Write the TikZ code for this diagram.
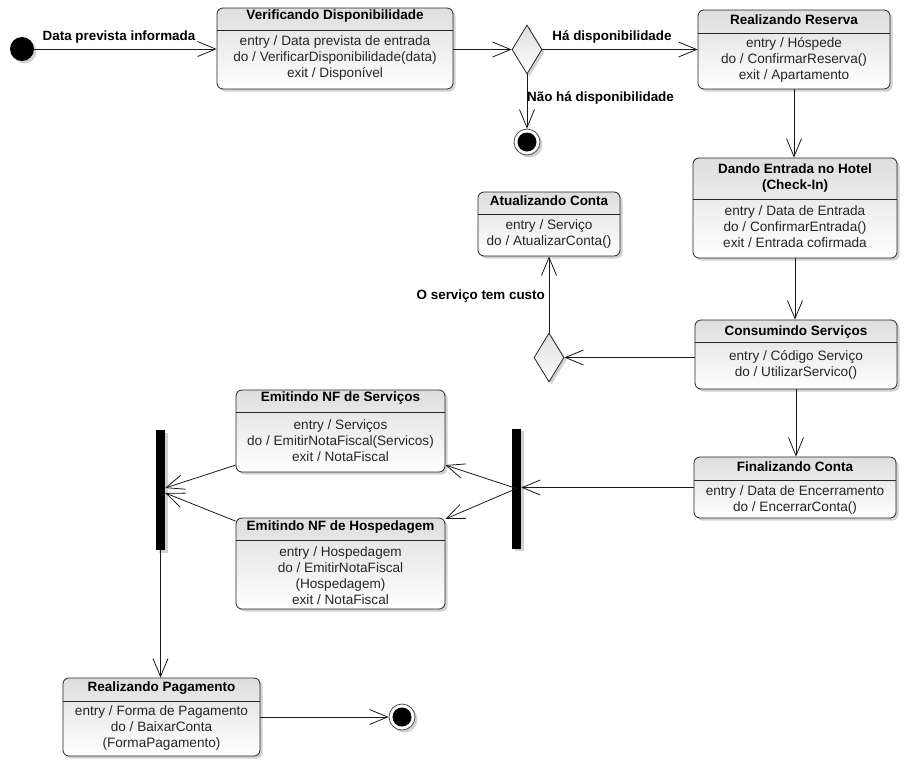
\documentclass[tikz,border=0pt]{standalone}
\usepackage{fontspec}
\setmainfont{Liberation Sans}
\usetikzlibrary{arrows.meta,shadows,shapes.geometric,calc}
\begin{document}
\begin{tikzpicture}[x=1pt,y=-1pt,
  shad/.style={drop shadow={shadow xshift=2.5pt,shadow yshift=-2.5pt,opacity=0.3,fill=black!60}},
  state/.style={draw=black!85, line width=0.8pt, rounded corners=6pt, top color=black!13, bottom color=white, shad, inner sep=0pt},
  divline/.style={draw=black!85, line width=0.8pt},
  ttl/.style={font=\fontsize{13.5}{16}\selectfont\bfseries, inner sep=0pt, align=center},
  body/.style={font=\fontsize{13.6}{16}\selectfont, inner sep=0pt, align=center, text=black!85},
  tr/.style={draw=black!90, line width=0.8pt, -{Straight Barb[length=18pt,width=15pt,line width=0.8pt]}},
  lbl/.style={font=\fontsize{13.4}{15}\selectfont\bfseries, inner sep=0pt},
  decis/.style={diamond, draw=black!85, line width=0.8pt, top color=black!13, bottom color=white, shad, minimum width=30pt, minimum height=49pt, inner sep=0pt},
  initst/.style={circle, fill=black, minimum size=24pt, inner sep=0pt, shad},
  finalst/.style={circle, draw=black!70, line width=0.8pt, fill=white, minimum size=26pt, inner sep=0pt, shad},
  finalin/.style={circle, fill=black, minimum size=19pt, inner sep=0pt},
  bar/.style={rectangle, fill=black, minimum width=9pt, minimum height=120pt, inner sep=0pt, shad}
]
\useasboundingbox (0,0) rectangle (913,772);

% initial / final / decisions / bars
\node[initst] (init) at (22,49) {};
\node[decis] (d1) at (527,49.5) {};
\node[finalst] (f1) at (527,142) {};
\node[finalin] (f1i) at (527,142) {};
\node[decis] (d2) at (549,357.5) {};
\node[bar] (fork) at (516.5,488.5) {};
\node[bar] (join) at (160.5,490) {};
\node[finalst] (f2) at (402,717) {};
\node[finalin] (f2i) at (402,717) {};

% Verificando Disponibilidade
\node[state, minimum width=236pt, minimum height=81pt] (verif) at (335,48.5) {};
\node[ttl] (verif-t) at (335,16.5) {Verificando Disponibilidade};
\draw[divline] (verif.west |- 0,30) -- (verif.east |- 0,30);
\node[body] (verif-b) at (335,57.5) {entry / Data prevista de entrada\\do / VerificarDisponibilidade(data)\\exit / Disponível};

% Realizando Reserva
\node[state, minimum width=192pt, minimum height=79pt] (res) at (794,49.5) {};
\node[ttl] (res-t) at (794,19.5) {Realizando Reserva};
\draw[divline] (res.west |- 0,33) -- (res.east |- 0,33);
\node[body] (res-b) at (794,60) {entry / Hóspede\\do / ConfirmarReserva()\\exit / Apartamento};

% Dando Entrada no Hotel
\node[state, minimum width=204pt, minimum height=100pt] (dando) at (795,208) {};
\node[ttl] (dando-t) at (795,178.5) {Dando Entrada no Hotel\\(Check-In)};
\draw[divline] (dando.west |- 0,199) -- (dando.east |- 0,199);
\node[body] (dando-b) at (795,226.5) {entry / Data de Entrada\\do / ConfirmarEntrada()\\exit / Entrada cofirmada};

% Atualizando Conta
\node[state, minimum width=142pt, minimum height=64pt] (atual) at (549,224) {};
\node[ttl] (atual-t) at (549,201) {Atualizando Conta};
\draw[divline] (atual.west |- 0,214) -- (atual.east |- 0,214);
\node[body] (atual-b) at (549,233.5) {entry / Serviço\\do / AtualizarConta()};

% Consumindo Servicos
\node[state, minimum width=202pt, minimum height=69pt] (cons) at (796,354.5) {};
\node[ttl] (cons-t) at (796,332.5) {Consumindo Serviços};
\draw[divline] (cons.west |- 0,342) -- (cons.east |- 0,342);
\node[body] (cons-b) at (796,365) {entry / Código Serviço\\do / UtilizarServico()};

% Finalizando Conta
\node[state, minimum width=202pt, minimum height=61pt] (fin) at (795,487.5) {};
\node[ttl] (fin-t) at (795,467) {Finalizando Conta};
\draw[divline] (fin.west |- 0,480) -- (fin.east |- 0,480);
\node[body] (fin-b) at (795,500) {entry / Data de Encerramento\\do / EncerrarConta()};

% Emitindo NF de Servicos
\node[state, minimum width=209pt, minimum height=82pt] (nfs) at (340.5,431) {};
\node[ttl] (nfs-t) at (340.5,398.5) {Emitindo NF de Serviços};
\draw[divline] (nfs.west |- 0,412) -- (nfs.east |- 0,412);
\node[body] (nfs-b) at (340.5,440.5) {entry / Serviços\\do / EmitirNotaFiscal(Servicos)\\exit / NotaFiscal};

% Emitindo NF de Hospedagem
\node[state, minimum width=209pt, minimum height=91pt] (nfh) at (340.5,563.5) {};
\node[ttl] (nfh-t) at (340.5,527.5) {Emitindo NF de Hospedagem};
\draw[divline] (nfh.west |- 0,540) -- (nfh.east |- 0,540);
\node[body] (nfh-b) at (340.5,576) {entry / Hospedagem\\do / EmitirNotaFiscal\\(Hospedagem)\\exit / NotaFiscal};

% Realizando Pagamento
\node[state, minimum width=197pt, minimum height=78pt] (pag) at (161.5,717) {};
\node[ttl] (pag-t) at (161.5,688) {Realizando Pagamento};
\draw[divline] (pag.west |- 0,701) -- (pag.east |- 0,701);
\node[body] (pag-b) at (161.5,727.5) {entry / Forma de Pagamento\\do / BaixarConta\\(FormaPagamento)};

% transitions
\draw[tr] (init.east) -- (verif.west |- init.east);
\draw[tr] (verif.east |- d1.west) -- (d1.west);
\draw[tr] (d1.east) -- (res.west |- d1.east);
\draw[tr] (d1.south) -- (f1.north);
\draw[tr] (res.south) -- (res.south |- dando.north);
\draw[tr] (dando.south) -- (dando.south |- cons.north);
\draw[tr] (cons.west |- d2.east) -- (d2.east);
\draw[tr] (d2.north) -- (d2.north |- atual.south);
\draw[tr] (cons.south) -- (cons.south |- fin.north);
\draw[tr] (fin.west) -- (fin.west -| fork.east);
\draw[tr] (fork.center) -- (nfs.-18);
\draw[tr] (fork.center) -- (nfh.23);
\draw[tr] (nfs.198) -- ($(join.east)+(0,-2)$);
\draw[tr] (nfh.158) -- ($(join.east)+(0,3)$);
\draw[tr] (join.south) -- (join.south |- pag.north);
\draw[tr] (pag.east) -- (f2.west);

% labels
\node[lbl] (l1) at (119,37.5) {Data prevista informada};
\node[lbl] (l2) at (612,37) {Há disponibilidade};
\node[lbl, anchor=west] (l3) at (527,98) {Não há disponibilidade};
\node[lbl, anchor=east] (l4) at (545,296) {O serviço tem custo};
\end{tikzpicture}
\end{document}
